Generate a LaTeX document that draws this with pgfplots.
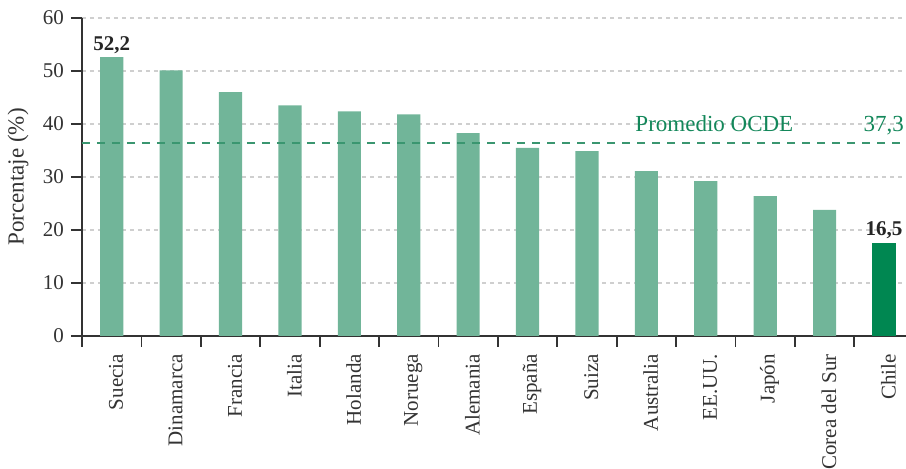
\documentclass[border=0pt]{standalone}
\usepackage{fontspec}
\setmainfont{Liberation Serif}
\usepackage{pgfplots}
\pgfplotsset{compat=1.18}
\definecolor{barlight}{HTML}{71B599}
\definecolor{bardark}{HTML}{008751}
\definecolor{avgtext}{HTML}{13875A}
\definecolor{avgline}{HTML}{3A9670}
\definecolor{axisgray}{HTML}{333333}
\definecolor{gridgray}{HTML}{CFCFCF}
\begin{document}
\begin{tikzpicture}
\path[use as bounding box] (-41pt,-66.5pt) rectangle (412pt,168pt);
\begin{axis}[
  at={(0,0)}, anchor=south west,
  scale only axis,
  width=412pt, height=159pt,
  xmin=-0.5, xmax=13.37,
  ymin=0, ymax=60,
  clip=false,
  axis lines*=left,
  axis line style={axisgray, line width=0.9pt},
  ytick={0,10,...,60},
  xtick={0,...,13},
  xticklabels={Suecia,Dinamarca,Francia,Italia,Holanda,Noruega,Alemania,España,Suiza,Australia,EE.UU.,Japón,Corea del Sur,Chile},
  minor xtick={-0.5,0.5,...,12.5},
  x tick style={draw=none},
  minor x tick style={draw=axisgray, line width=0.9pt},
  y tick style={draw=axisgray, line width=0.9pt},
  tick align=outside,
  major tick length=5.5pt,
  minor tick length=5.5pt,
  /pgf/number format/assume math mode=true,
  tick label style={font=\fontsize{10.5}{12}\selectfont},
  xticklabel style={rotate=90, anchor=east, yshift=-2.2pt, text=axisgray},
  yticklabel style={text=axisgray},
  ymajorgrids,
  major grid style={gridgray, line width=0.9pt, dash pattern=on 2pt off 2pt},
  bar width=0.39,
]
\addplot[ybar, fill=barlight, draw=none, bar shift=0pt] coordinates {
  (0,52.6) (1,50.1) (2,46.0) (3,43.5) (4,42.4) (5,41.8) (6,38.3)
  (7,35.5) (8,34.9) (9,31.1) (10,29.2) (11,26.4) (12,23.8)
};
\addplot[ybar, fill=bardark, draw=none, bar shift=0pt] coordinates {
  (13,17.5)
};
\addplot[avgline, line width=0.9pt, dash pattern=on 4pt off 3.5pt] coordinates {
  (-0.5,36.4) (13.37,36.4)
};
\node[anchor=base, font=\fontsize{10.5}{12}\selectfont\bfseries, text=black!85] at ([yshift=3.5pt]axis cs:0,52.6) {52,2};
\node[anchor=base, font=\fontsize{10.5}{12}\selectfont\bfseries, text=black!85] at ([yshift=4pt]axis cs:13,17.5) {16,5};
\node[anchor=base west, font=\fontsize{11.5}{13}\selectfont, text=avgtext, inner sep=0pt] at (axis cs:8.81,38.5) {Promedio OCDE};
\node[anchor=base east, font=\fontsize{11.5}{13}\selectfont, text=avgtext, inner sep=0pt] at (axis cs:13.34,38.5) {37,3};
\node[rotate=90, anchor=center, font=\fontsize{11.5}{13}\selectfont, text=axisgray] at ([xshift=-32pt]axis cs:-0.5,30) {Porcentaje (\%)};
\end{axis}
\end{tikzpicture}
\end{document}
